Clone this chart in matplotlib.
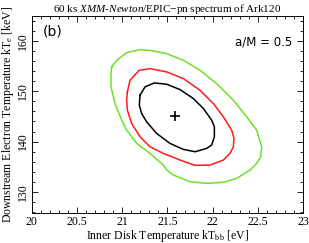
import numpy as np
import matplotlib
matplotlib.use("Agg")
import matplotlib.pyplot as plt
from matplotlib.ticker import MultipleLocator, FormatStrFormatter

plt.rcParams['font.family'] = 'Liberation Serif'
plt.rcParams['mathtext.fontset'] = 'custom'
plt.rcParams['mathtext.rm'] = 'Liberation Serif'
plt.rcParams['mathtext.it'] = 'Liberation Serif:italic'

# best fit
best_kTbb = 21.59
best_kTe = 145.05

# 68% contour (black)
c1_x = [21.198, 21.253, 21.356, 21.493, 21.640, 21.787, 21.898, 21.990, 22.020, 22.020,
        21.990, 21.935, 21.806, 21.677, 21.529, 21.382, 21.271, 21.216, 21.190, 21.198]
c1_y = [149.23, 150.88, 151.67, 151.41, 150.35, 148.57, 146.58, 144.27, 142.94, 140.96,
        139.31, 138.65, 137.98, 138.45, 139.64, 141.62, 143.93, 145.59, 147.24, 149.23]

# 90% contour (red)
c2_x = [21.058, 21.087, 21.190, 21.308, 21.493, 21.677, 21.861, 22.009, 22.119, 22.211,
        22.237, 22.230, 22.193, 22.119, 21.972, 21.806, 21.640, 21.456, 21.308, 21.198,
        21.105, 21.058, 21.050, 21.058]
c2_y = [149.89, 152.20, 154.19, 154.52, 153.86, 152.53, 150.22, 147.57, 144.93, 142.28,
        140.63, 138.97, 137.65, 136.33, 135.34, 135.27, 136.33, 137.65, 138.97, 140.96,
        143.61, 146.25, 148.23, 149.89]

# 99% contour (green)
c3_x = [20.884, 20.940, 21.050, 21.198, 21.308, 21.493, 21.677, 21.861, 22.045, 22.230,
        22.377, 22.488, 22.543, 22.532, 22.488, 22.414, 22.267, 22.119, 21.935, 21.751,
        21.566, 21.493, 21.456, 21.308, 21.161, 21.050, 20.995, 20.921, 20.877, 20.877,
        20.884]
c3_y = [154.85, 156.17, 157.69, 158.29, 158.15, 157.49, 156.17, 154.19, 151.54, 148.23,
        144.93, 142.28, 138.97, 136.99, 135.67, 134.35, 132.69, 131.90, 131.70, 132.03,
        133.35, 134.35, 135.34, 137.65, 139.64, 142.28, 144.27, 147.57, 150.88, 153.20,
        154.85]

fig = plt.figure(figsize=(3.09, 2.43), dpi=100)
ax = fig.add_axes([0.1026, 0.1235, 0.878, 0.811])

ax.plot(c3_x, c3_y, color='#6ee02a', lw=1.1)
ax.plot(c2_x, c2_y, color='#ff1a1a', lw=1.1)
ax.plot(c1_x, c1_y, color='black', lw=1.1)
ax.plot([best_kTbb], [best_kTe], marker='+', color='black', ms=7, mew=1.2)

ax.set_xlim(20, 23)
ax.set_ylim(125.8, 165)
ax.xaxis.set_major_locator(MultipleLocator(0.5))
ax.xaxis.set_minor_locator(MultipleLocator(0.1))
ax.xaxis.set_major_formatter(FormatStrFormatter('%g'))
ax.yaxis.set_major_locator(MultipleLocator(10))
ax.yaxis.set_minor_locator(MultipleLocator(2))
ax.yaxis.set_major_formatter(FormatStrFormatter('%g'))
ax.tick_params(which='both', direction='in', top=True, right=True, labelsize=8.5, pad=2)
ax.tick_params(which='major', length=4, width=0.6)
ax.tick_params(which='minor', length=2, width=0.6)
for lab in ax.get_yticklabels():
    lab.set_rotation(90)
    lab.set_va('center')
for s in ax.spines.values():
    s.set_linewidth(0.7)

ax.set_xlabel(r'Inner Disk Temperature kT$_{\rm bb}$ [eV]', fontsize=8.5, labelpad=0)
ax.set_ylabel(r'Downstream Electron Temperature kT$_{\rm e}$ [keV]', fontsize=8.5, labelpad=1)
ax.set_title(r'60 ks $\mathit{XMM}$-$\mathit{Newton}$/EPIC$-$pn spectrum of Ark120', fontsize=8, pad=3)

ax.text(0.04, 0.92, '(b)', transform=ax.transAxes, fontsize=10, family='DejaVu Sans', va='center')
ax.text(0.96, 0.87, 'a/M = 0.5', transform=ax.transAxes, fontsize=8.5, family='DejaVu Sans', ha='right', va='center')

fig.savefig('out.png', dpi=100)
